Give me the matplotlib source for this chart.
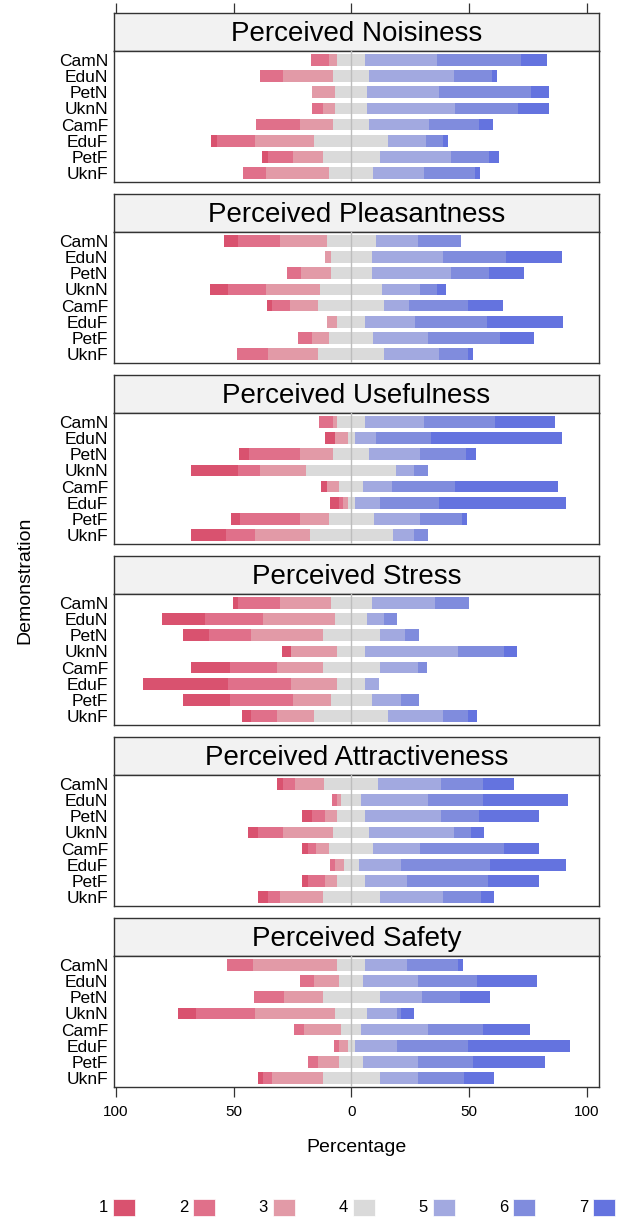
import numpy as np
import matplotlib
matplotlib.use("Agg")
import matplotlib.pyplot as plt
from matplotlib.patches import Rectangle

plt.rcParams['font.family'] = ['Liberation Sans', 'DejaVu Sans']

# ===== DATA (percent of answers per level 1..7) =====
demos = ['CamN', 'EduN', 'PetN', 'UknN', 'CamF', 'EduF', 'PetF', 'UknF']
levels = ['1', '2', '3', '4', '5', '6', '7']
titles = ['Perceived Noisiness', 'Perceived Pleasantness', 'Perceived Usefulness',
          'Perceived Stress', 'Perceived Attractiveness', 'Perceived Safety']

noisiness = [
    [0, 7.7, 3.5, 11.9, 30.5, 35.6, 11.1],
    [0, 9.6, 21.5, 15.3, 35.9, 16.1, 2.2],
    [0, 0, 9.6, 13.8, 30.4, 39.1, 7.7],
    [0, 4.4, 5.2, 13.8, 37.4, 26.7, 13.1],
    [0, 18.5, 14.3, 15.3, 25.2, 21.5, 5.7],
    [2.2, 16.3, 25.2, 31.4, 16.1, 7.2, 2.0],
    [2.3, 10.7, 12.6, 24.2, 30.5, 16.1, 4.0],
    [0, 9.7, 26.7, 18.8, 21.6, 21.6, 2.0],
]
pleasantness = [
    [5.9, 17.8, 19.8, 20.8, 18.0, 18.1, 0],
    [0, 0, 2.5, 17.3, 30.4, 26.7, 23.8],
    [0, 5.9, 12.6, 17.3, 33.9, 16.1, 14.6],
    [7.6, 16.4, 23.0, 26.2, 16.1, 7.2, 3.9],
    [2.3, 7.4, 12.2, 28.0, 10.7, 25.0, 14.8],
    [0, 0, 4.2, 11.9, 21.3, 30.5, 32.4],
    [0, 5.9, 7.2, 18.8, 23.3, 30.5, 14.6],
    [0, 13.1, 21.3, 28.0, 23.3, 12.4, 2.2],
]
usefulness = [
    [0, 5.9, 1.8, 12.1, 25.0, 30.2, 25.5],
    [4.2, 0, 5.4, 3.0, 8.9, 23.3, 55.9],
    [4.2, 21.5, 14.3, 15.3, 21.6, 19.6, 4.0],
    [20.1, 9.1, 19.6, 38.4, 7.4, 5.9, 0],
    [2.3, 0, 5.4, 10.1, 12.4, 26.8, 43.5],
    [4.2, 1.7, 1.8, 3.0, 10.6, 25.2, 54.0],
    [3.9, 25.2, 12.4, 19.0, 19.8, 17.8, 2.3],
    [14.8, 12.6, 23.2, 35.1, 9.1, 5.9, 0],
]
stress = [
    [2.3, 17.8, 21.5, 17.4, 26.7, 14.8, 0],
    [18.3, 25.0, 30.4, 13.8, 7.0, 5.7, 0],
    [11.2, 17.8, 30.5, 24.2, 10.9, 5.7, 0],
    [4.0, 0, 19.5, 12.1, 39.3, 19.6, 5.7],
    [16.8, 19.6, 19.6, 24.2, 16.1, 4.0, 0],
    [36.1, 27.0, 19.5, 12.1, 5.7, 0, 0],
    [20.3, 26.7, 15.9, 17.4, 12.4, 7.6, 0],
    [4.0, 10.9, 15.9, 31.5, 23.2, 10.7, 4.0],
]
attractiveness = [
    [2.5, 5.2, 12.4, 22.8, 26.7, 17.8, 13.1],
    [0, 2.2, 1.8, 8.4, 28.5, 23.2, 36.2],
    [4.2, 5.4, 5.2, 12.1, 32.0, 16.1, 25.5],
    [4.2, 10.6, 21.5, 15.3, 35.9, 7.2, 5.7],
    [2.3, 3.7, 5.4, 18.8, 19.8, 35.7, 14.8],
    [0, 2.3, 3.5, 6.5, 18.0, 37.6, 32.6],
    [2.3, 7.2, 5.2, 12.1, 17.8, 34.1, 21.8],
    [4.2, 5.4, 18.0, 24.2, 26.8, 16.1, 5.7],
]
safety = [
    [0, 11.2, 35.7, 12.1, 17.8, 21.5, 2.2],
    [0, 6.0, 10.7, 10.1, 23.2, 25.2, 25.3],
    [0, 12.9, 16.3, 24.2, 18.0, 16.1, 12.9],
    [7.7, 25.0, 33.9, 13.8, 12.4, 1.8, 5.7],
    [0, 4.2, 15.9, 8.4, 28.5, 23.2, 20.1],
    [0, 2.3, 3.5, 3.0, 17.8, 30.4, 43.3],
    [0, 4.2, 8.9, 10.1, 23.2, 23.3, 30.9],
    [2.3, 3.7, 21.5, 24.2, 16.1, 19.6, 12.9],
]
panels = [noisiness, pleasantness, usefulness, stress, attractiveness, safety]

colors = ['#D9526F', '#E0708A', '#E29AA7', '#DADADA', '#A2A9E0', '#808CDD', '#6473DF']

# ===== LAYOUT (pixels -> figure fraction) =====
W, H = 617, 1218
fig = plt.figure(figsize=(W / 100, H / 100), dpi=100)

ax_left, ax_right = 114, 599
strip_h, data_h, step = 38, 131, 181
first_top = 13
xlim = (-100.8, 105.3)
frame_col = '#333333'

def fx(px):
    return px / W

def fy(py):
    return 1 - py / H

for i, (title, vals) in enumerate(zip(titles, panels)):
    top = first_top + i * step
    vals = np.array(vals, dtype=float)

    # strip
    sax = fig.add_axes([fx(ax_left), fy(top + strip_h), fx(ax_right - ax_left), strip_h / H])
    sax.set_facecolor('#F2F2F2')
    sax.set_xlim(xlim)
    sax.set_yticks([])
    sax.text(0.5, 0.45, title, transform=sax.transAxes, ha='center', va='center', fontsize=20)
    for sp in sax.spines.values():
        sp.set_color(frame_col)
        sp.set_linewidth(1.0)
    if i == 0:
        sax.xaxis.set_ticks_position('top')
        sax.set_xticks([-100, -50, 0, 50, 100])
        sax.tick_params(axis='x', length=7, width=0.9, color=frame_col, labeltop=False)
    else:
        sax.set_xticks([])

    # data panel
    ax = fig.add_axes([fx(ax_left), fy(top + strip_h + data_h), fx(ax_right - ax_left), data_h / H])
    ypos = np.arange(len(demos))[::-1] + 1
    start = -(vals[:, 0] + vals[:, 1] + vals[:, 2] + vals[:, 3] / 2)
    left = start.copy()
    for k in range(len(levels)):
        ax.barh(ypos, vals[:, k], left=left, height=0.72, color=colors[k],
                edgecolor='none', zorder=2)
        left = left + vals[:, k]
    ax.axvline(0, color='#BDBDBD', lw=1.0, zorder=3)
    ax.set_xlim(xlim)
    ax.set_ylim(0.45, 8.55)
    ax.set_yticks(ypos)
    ax.set_yticklabels(demos, fontsize=12.5)
    ax.tick_params(axis='y', length=0, pad=4)
    for sp in ax.spines.values():
        sp.set_color(frame_col)
        sp.set_linewidth(1.0)
    if i == len(titles) - 1:
        ax.set_xticks([-100, -50, 0, 50, 100])
        ax.set_xticklabels(['100', '50', '0', '50', '100'], fontsize=11)
        ax.tick_params(axis='x', length=7, width=0.9, color=frame_col, pad=6)
    else:
        ax.set_xticks([])

fig.text(fx(357), fy(1147), 'Percentage', ha='center', va='center', fontsize=14)
fig.text(fx(25), fy(580), 'Demonstration', ha='center', va='center', rotation=90, fontsize=14)

# legend
for k, lab in enumerate(levels):
    bx = 113 + 80 * k
    fig.patches.append(Rectangle((fx(bx), fy(1216)), 22 / W, 17 / H, transform=fig.transFigure,
                                 facecolor=colors[k], edgecolor='white', lw=0.5))
    fig.text(fx(bx - 5), fy(1208), lab, ha='right', va='center', fontsize=12)

fig.savefig('out.png', dpi=100)
